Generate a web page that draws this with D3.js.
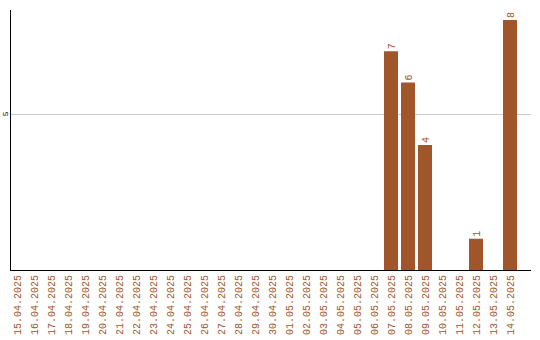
<!DOCTYPE html>
<html>
<head>
<meta charset="utf-8">
<script src="https://cdn.jsdelivr.net/npm/d3@7"></script>
<style>
  html, body { margin: 0; padding: 0; background: #fff; }
  svg { display: block; }
</style>
</head>
<body>
<svg id="chart" width="540" height="340"></svg>
<script>
// Daily counts, 15.04.2025 – 14.05.2025
const dates = [
  "15.04.2025", "16.04.2025", "17.04.2025", "18.04.2025", "19.04.2025",
  "20.04.2025", "21.04.2025", "22.04.2025", "23.04.2025", "24.04.2025",
  "25.04.2025", "26.04.2025", "27.04.2025", "28.04.2025", "29.04.2025",
  "30.04.2025", "01.05.2025", "02.05.2025", "03.05.2025", "04.05.2025",
  "05.05.2025", "06.05.2025", "07.05.2025", "08.05.2025", "09.05.2025",
  "10.05.2025", "11.05.2025", "12.05.2025", "13.05.2025", "14.05.2025"
];
const counts = [
  0, 0, 0, 0, 0, 0, 0, 0, 0, 0,
  0, 0, 0, 0, 0, 0, 0, 0, 0, 0,
  0, 0, 7, 6, 4, 0, 0, 1, 0, 8
];
const yTicks = [5];

const barColor = "#a0562a";
const textColor = "#a0562a";
const monoFont = "Liberation Mono, DejaVu Sans Mono, monospace";

const svg = d3.select("#chart");
const plotLeft = 10, plotRight = 531, plotTop = 10, plotBottom = 270;

const x = d3.scaleBand()
  .domain(dates)
  .range([7, 520])
  .paddingInner(3 / 17)
  .paddingOuter(3 / 17);

const y = d3.scaleLinear()
  .domain([0, 8.32])
  .range([plotBottom, plotTop]);

// horizontal grid lines
svg.append("g")
  .selectAll("line")
  .data(yTicks)
  .join("line")
  .attr("x1", plotLeft)
  .attr("x2", plotRight)
  .attr("y1", d => Math.round(y(d)) + 0.5)
  .attr("y2", d => Math.round(y(d)) + 0.5)
  .attr("stroke", "#cccccc")
  .attr("stroke-width", 1);

// y tick labels, rotated
svg.append("g")
  .selectAll("text")
  .data(yTicks)
  .join("text")
  .attr("transform", d => `translate(8,${y(d)}) rotate(-90)`)
  .attr("text-anchor", "middle")
  .attr("font-family", monoFont)
  .attr("font-size", 8)
  .attr("fill", "#000")
  .text(d => d);

// bars
const data = dates.map((d, i) => ({ date: d, value: counts[i] }));
svg.append("g")
  .selectAll("rect")
  .data(data.filter(d => d.value > 0))
  .join("rect")
  .attr("x", d => x(d.date))
  .attr("width", x.bandwidth())
  .attr("y", d => y(d.value))
  .attr("height", d => y(0) - y(d.value))
  .attr("fill", barColor);

// value labels above bars
svg.append("g")
  .selectAll("text")
  .data(data.filter(d => d.value > 0))
  .join("text")
  .attr("transform", d => `translate(${x(d.date) + x.bandwidth() / 2 + 3.5},${y(d.value) - 2}) rotate(-90)`)
  .attr("text-anchor", "start")
  .attr("font-family", monoFont)
  .attr("font-size", 10)
  .attr("fill", textColor)
  .text(d => d.value);

// axis lines
svg.append("line")
  .attr("x1", plotLeft + 0.5).attr("x2", plotLeft + 0.5)
  .attr("y1", plotTop).attr("y2", plotBottom + 0.5)
  .attr("stroke", "#000");
svg.append("line")
  .attr("x1", plotLeft).attr("x2", plotRight)
  .attr("y1", plotBottom + 0.5).attr("y2", plotBottom + 0.5)
  .attr("stroke", "#000");

// x category labels, rotated
svg.append("g")
  .selectAll("text")
  .data(dates)
  .join("text")
  .attr("transform", d => `translate(${x(d) + x.bandwidth() / 2 + 3.5},275) rotate(-90)`)
  .attr("text-anchor", "end")
  .attr("font-family", monoFont)
  .attr("font-size", 10)
  .attr("fill", textColor)
  .text(d => d);
</script>
</body>
</html>
